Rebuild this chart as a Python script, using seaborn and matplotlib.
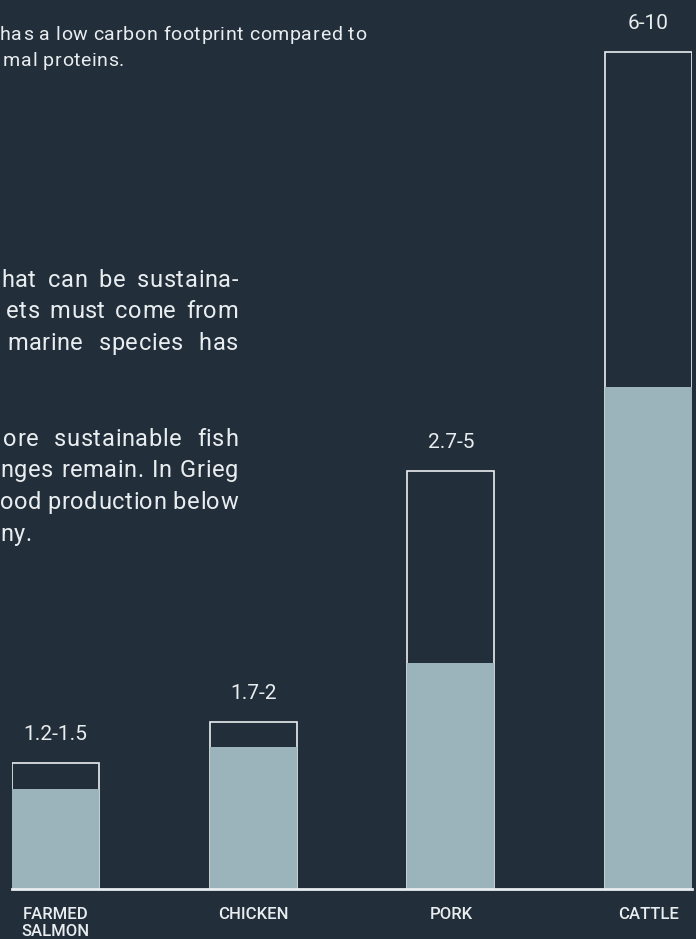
import matplotlib
matplotlib.use("Agg")
import matplotlib.pyplot as plt
import pandas as pd
import seaborn as sns
from matplotlib import font_manager, ft2font

# Carbon footprint ranges per protein source
categories = ["FARMED\nSALMON", "CHICKEN", "PORK", "CATTLE"]
low = [1.2, 1.7, 2.7, 6]
high = [1.5, 2, 5, 10]
range_labels = ["1.2-1.5", "1.7-2", "2.7-5", "6-10"]

intro_lines = ["has a low carbon footprint compared to", "mal proteins."]
body_lines_1 = ["hat can be sustaina-", "ets must come from", "marine species has"]
body_lines_2 = ["ore sustainable fish", "nges remain. In Grieg", "ood production below", "ny."]

BG = "#222f3b"
FILL = "#9bb3ba"
INK = "#e9edef"

W, H = 696, 939

sns.set_theme(style="white")
plt.rcParams["font.family"] = ["Roboto", "DejaVu Sans"]

fig = plt.figure(figsize=(W / 100, H / 100), dpi=100, facecolor=BG)
ax = fig.add_axes([12 / W, (H - 889) / H, (692 - 12) / W, 889 / H])
ax.set_facecolor(BG)

df = pd.DataFrame({"animal": categories, "low": low, "high": high})

# outline for the upper end of each range, solid fill for the lower end
sns.barplot(data=df, x="animal", y="high", fill=False, color=INK,
            linewidth=1.2, width=0.44, errorbar=None, ax=ax)
sns.barplot(data=df, x="animal", y="low", color=FILL, saturation=1,
            linewidth=0, width=0.44, errorbar=None, ax=ax)

ax.set_xlim(-0.22, 3.22)
ax.set_ylim(0, 889 / 83.7)
ax.set_xlabel("")
ax.set_ylabel("")
ax.set_yticks([])
for side in ["top", "left", "right"]:
    ax.spines[side].set_visible(False)
ax.spines["bottom"].set_color(INK)
ax.spines["bottom"].set_linewidth(2)
ax.tick_params(axis="x", length=0, pad=13, colors=INK)
for lbl in ax.get_xticklabels():
    lbl.set_fontsize(12)
    lbl.set_fontweight("medium")
    lbl.set_linespacing(1.15)

for i, (hv, txt) in enumerate(zip(high, range_labels)):
    ax.annotate(txt, xy=(i, hv), xytext=(0, 23), textcoords="offset pixels",
                ha="center", va="baseline", color=INK, fontsize=15)

# ---- running text, letter-spaced and justified glyph by glyph ----
FONT_PATH = font_manager.findfont(font_manager.FontProperties(family="Roboto"))


def advances(text, size):
    face = ft2font.FT2Font(FONT_PATH)
    face.set_size(size, 100)
    return [face.load_char(ord(c)).linearHoriAdvance / 65536 for c in text]


def tracked_line(line, x0, y, size, track, x1=None):
    adv = advances(line, size)
    n_space = line.count(" ")
    total = sum(adv) + track * (len(line) - 1)
    extra = (x1 - x0 - total) / n_space if (x1 is not None and n_space) else 0
    x = x0
    for ch, a in zip(line, adv):
        if ch != " ":
            fig.text(x / W, 1 - y / H, ch, fontsize=size, color=INK,
                     family="Roboto", ha="left", va="baseline")
        x += a + track + (extra if ch == " " else 0)


tracked_line(intro_lines[0], 0, 40, 14, 0.65)
tracked_line(intro_lines[1], 3, 66, 14, 0.65)

body_size, body_track = 17, 0.6
for line, x0, y in zip(body_lines_1, [1, 6, 7], [287, 318, 350]):
    tracked_line(line, x0, y, body_size, body_track, x1=238)
for line, x0, y in zip(body_lines_2[:3], [3, 0, 0], [446, 477, 509]):
    tracked_line(line, x0, y, body_size, body_track, x1=238)
tracked_line(body_lines_2[3], 0, 541, body_size, body_track)

fig.savefig("out.png", dpi=100, facecolor=BG)
